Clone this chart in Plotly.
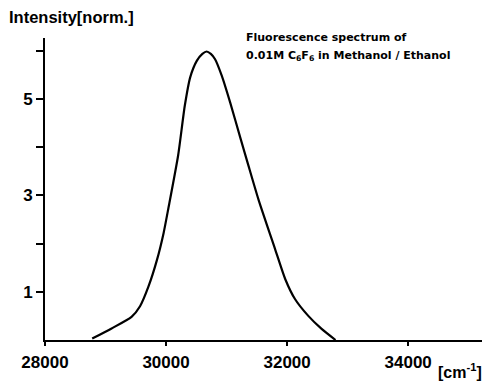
import plotly.graph_objects as go

# Data
wavenumber = [28780, 29100, 29430, 29570, 29710, 29850, 29960, 30040, 30200, 30310,
              30400, 30510, 30600, 30670, 30740, 30810, 30920, 31060, 31230, 31360,
              31530, 31800, 31970, 32130, 32350, 32570, 32800]
intensity = [0.03, 0.24, 0.48, 0.70, 1.11, 1.66, 2.22, 2.74, 3.83, 4.86,
             5.45, 5.79, 5.93, 5.98, 5.93, 5.82, 5.48, 4.92, 4.18, 3.62,
             2.90, 1.89, 1.26, 0.85, 0.50, 0.23, 0.0]

x_tickvals = [28000, 30000, 32000, 34000]
x_ticktext = ["28000", "30000", "32000", "34000"]
y_tickvals = [1, 3, 5]
y_ticktext = ["1", "3", "5"]
y_minor_tickvals = [2, 4, 6]

FONT = "Liberation Sans, Arial, sans-serif"

fig = go.Figure()
fig.add_trace(go.Scatter(
    x=wavenumber, y=intensity, mode="lines",
    line=dict(color="black", width=2.2, shape="spline", smoothing=0.6),
    hoverinfo="skip", showlegend=False,
))

fig.update_layout(
    width=485, height=384,
    margin=dict(l=45, r=3, t=38, b=44),
    paper_bgcolor="white", plot_bgcolor="white",
    xaxis=dict(
        range=[28000, 35220], tickvals=x_tickvals, ticktext=x_ticktext,
        showgrid=False, zeroline=False, showline=True, linecolor="black", linewidth=2,
        ticks="outside", ticklen=4, tickwidth=2, tickcolor="black", ticklabelstandoff=2,
        tickfont=dict(family=FONT, size=17, color="black", weight="bold"),
    ),
    yaxis=dict(
        range=[0, 6.26], tickvals=y_tickvals, ticktext=y_ticktext,
        showgrid=False, zeroline=False, showline=True, linecolor="black", linewidth=2,
        ticks="outside", ticklen=7, tickwidth=2, tickcolor="black",
        minor=dict(tickvals=y_minor_tickvals, ticks="outside", ticklen=7, tickwidth=2,
                   tickcolor="black", showgrid=False),
        tickfont=dict(family=FONT, size=17, color="black", weight="bold"),
    ),
    annotations=[
        dict(text="Intensity[norm.]", xref="paper", yref="paper", x=0, y=1,
             xanchor="left", yanchor="bottom", xshift=-38, yshift=10, showarrow=False,
             font=dict(family=FONT, size=16.5, color="black", weight="bold")),
        dict(text="Fluorescence spectrum of", xref="paper", yref="paper", x=0, y=1,
             xanchor="left", yanchor="middle", xshift=199, yshift=1, showarrow=False,
             font=dict(family="DejaVu Sans", size=11, color="black", weight="bold")),
        dict(text="0.01M C<sub>6</sub>F<sub>6</sub> in Methanol / Ethanol", xref="paper", yref="paper",
             x=0, y=1, xanchor="left", yanchor="middle", xshift=199, yshift=-18, showarrow=False,
             font=dict(family="DejaVu Sans", size=11, color="black", weight="bold")),
        dict(text="[cm<sup>-1</sup>]", xref="paper", yref="paper", x=1, y=0,
             xanchor="right", yanchor="bottom", xshift=2, yshift=-43, showarrow=False,
             font=dict(family=FONT, size=16, color="black", weight="bold")),
    ],
)

fig.write_html("out.html")
